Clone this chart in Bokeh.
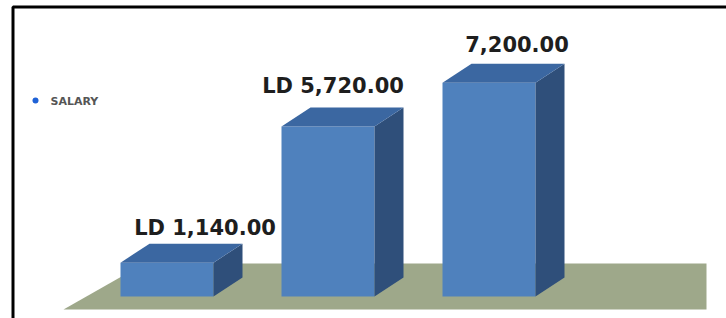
from bokeh.plotting import figure
from bokeh.models import Range1d, BoxAnnotation, ColumnDataSource
from bokeh.core.properties import value
from bokeh.embed import file_html
from bokeh.resources import INLINE

# ---- data ----
categories = ["A", "B", "C"]
salary = [1140, 5720, 7200]
labels = ["LD 1,140.00", "LD 5,720.00", "7,200.00"]
series_name = "SALARY"

# ---- geometry / styling ----
W, H = 726, 318
px_per_unit_x = 161.0
k = 1000 / 29.7          # value units per pixel
x0 = -166.5 / px_per_unit_x
y0 = -(H - 296) * k


def px_x(px):
    return x0 + px / px_per_unit_x


def px_y(py):
    return y0 + (H - py) * k


p = figure(width=W, height=H, output_backend="svg", toolbar_location=None,
           x_range=Range1d(x0, x0 + W / px_per_unit_x),
           y_range=Range1d(y0, y0 + H * k),
           min_border=0)
p.axis.visible = False
p.grid.visible = False
p.outline_line_color = None
p.background_fill_color = "white"
p.border_fill_color = "white"

bw = 93 / px_per_unit_x
ddx = 29 / px_per_unit_x
ddy = 19 * k

# floor
p.patch([px_x(63), px_x(144), px_x(706), px_x(706)],
        [px_y(309), px_y(263), px_y(263), px_y(309)],
        fill_color="#9ea88a", line_color=None)

xs_idx = list(range(len(categories)))
# front faces
src = ColumnDataSource(dict(x=xs_idx, top=salary))
p.vbar(x="x", top="top", bottom=0, width=bw, source=src,
       fill_color="#4f81bd", line_color=None)

# side and top faces
side_x, side_y, top_x, top_y = [], [], [], []
for i, v in zip(xs_idx, salary):
    l, r = i - bw / 2, i + bw / 2
    side_x.append([r, r + ddx, r + ddx, r])
    side_y.append([0, ddy, v + ddy, v])
    top_x.append([l, r, r + ddx, l + ddx])
    top_y.append([v, v, v + ddy, v + ddy])
p.patches(side_x, side_y, fill_color="#2f4f7a", line_color=None)
p.patches(top_x, top_y, fill_color="#3b67a1", line_color=None)

# value labels
label_dx = [38 / px_per_unit_x, 5 / px_per_unit_x, 28 / px_per_unit_x]
label_dy = [35 * k, 41 * k, 39 * k]
p.text(x=[i + d for i, d in zip(xs_idx, label_dx)],
       y=[v + d for v, d in zip(salary, label_dy)],
       text=labels, text_align="center", text_baseline="middle",
       text_font=value("DejaVu Sans"), text_font_style="bold",
       text_font_size="21px", text_color="#1e1e1e")

# legend
p.scatter(x=[px_x(35)], y=[px_y(100)], size=6,
          marker="circle", fill_color="#1f62d6", line_color=None)
p.text(x=[px_x(50)], y=[px_y(101)], text=[series_name],
       text_align="left", text_baseline="middle",
       text_font=value("DejaVu Sans"), text_font_style="bold",
       text_font_size="11px", text_color="#555555")

# border (left and top only; right/bottom lie outside the canvas)
p.add_layout(BoxAnnotation(left=px_x(12.5), top=px_y(6.5),
                           right=px_x(740), bottom=px_y(330),
                           fill_alpha=0, line_color="black", line_alpha=1.0,
                           line_width=3))

open("out.html", "w").write(file_html(p, INLINE))
